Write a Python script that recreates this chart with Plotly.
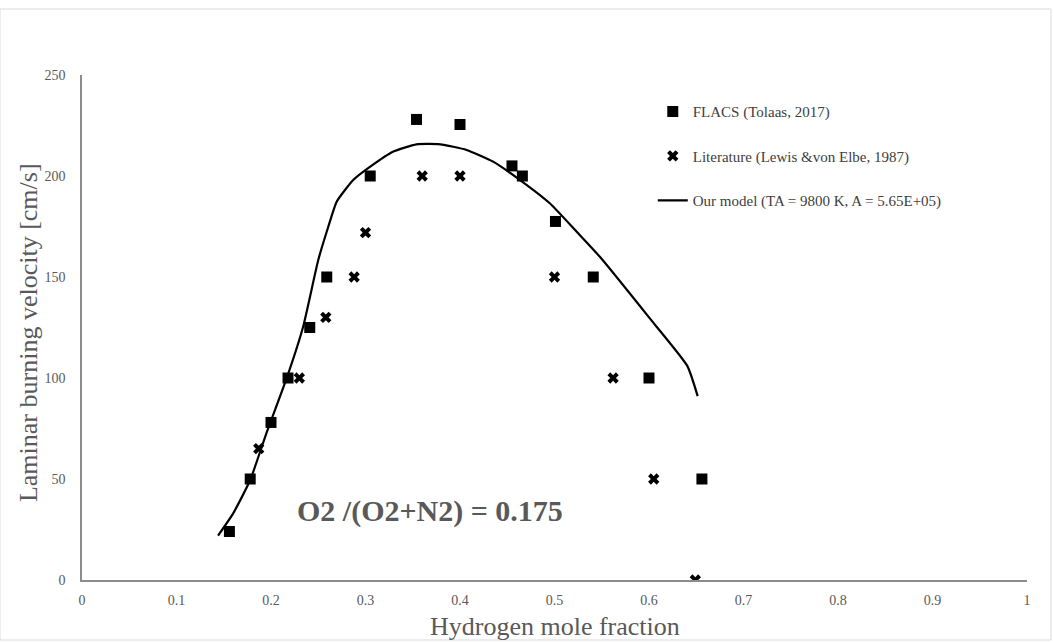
import plotly.graph_objects as go

# FLACS (Tolaas, 2017)
flacs_x = [0.156, 0.178, 0.200, 0.218, 0.241, 0.259, 0.305, 0.354, 0.400, 0.455, 0.466, 0.501, 0.541, 0.600, 0.656]
flacs_y = [24, 50, 78, 100, 125, 150, 200, 228, 225.5, 205, 200, 177.5, 150, 100, 50]

# Literature (Lewis & von Elbe, 1987)
lit_x = [0.187, 0.230, 0.258, 0.288, 0.300, 0.360, 0.400, 0.500, 0.562, 0.605, 0.649]
lit_y = [65, 100, 130, 150, 172, 200, 200, 150, 100, 50, 0]

# Our model
model_x = [0.144, 0.160, 0.178, 0.195, 0.2165, 0.234, 0.250, 0.2607, 0.2695, 0.287, 0.305,
           0.329, 0.354, 0.379, 0.407, 0.435, 0.4635, 0.495, 0.5235, 0.548, 0.600, 0.6405, 0.6515]
model_y = [22, 33, 49.5, 72.5, 99.8, 125.4, 158.4, 175, 187.3, 198, 204.6,
           212, 215.7, 215.7, 212.9, 207.1, 198, 186.5, 172.4, 160, 130, 106, 91]

x_ticks = [0, 0.1, 0.2, 0.3, 0.4, 0.5, 0.6, 0.7, 0.8, 0.9, 1]
x_ticklabels = ["0", "0.1", "0.2", "0.3", "0.4", "0.5", "0.6", "0.7", "0.8", "0.9", "1"]
y_ticks = [0, 50, 100, 150, 200, 250]

SERIF = "Liberation Serif, Times New Roman, serif"

fig = go.Figure()
fig.add_trace(go.Scatter(
    x=flacs_x, y=flacs_y, mode="markers", name="FLACS (Tolaas, 2017)",
    marker=dict(symbol="square", size=11, color="black"), legendgroup="a"))
fig.add_trace(go.Scatter(
    x=lit_x, y=lit_y, mode="markers", name="Literature (Lewis &von Elbe, 1987)",
    marker=dict(symbol="x", size=10, color="black", line=dict(width=0)), legendgroup="b"))
fig.add_trace(go.Scatter(
    x=model_x, y=model_y, mode="lines", name="Our model (TA = 9800 K, A = 5.65E+05)",
    line=dict(color="black", width=2.2, shape="spline", smoothing=0.5), legendgroup="c"))

fig.add_annotation(x=0.368, y=34, xref="x", yref="y", text="<b>O2 /(O2+N2) = 0.175</b>",
                   showarrow=False, font=dict(family=SERIF, size=30, color="#595959"))

# axis titles
fig.add_annotation(x=0.5, y=0, xref="paper", yref="paper", yshift=-46, yanchor="middle",
                   text="Hydrogen mole fraction", showarrow=False,
                   font=dict(family=SERIF, size=26, color="#595959"))
fig.add_annotation(x=0, y=0.489, xref="paper", yref="paper", xshift=-54, xanchor="center",
                   textangle=-90, text="Laminar burning velocity [cm/s]", showarrow=False,
                   font=dict(family=SERIF, size=26, color="#595959"))

fig.update_layout(
    width=1053, height=642,
    margin=dict(l=82, r=26, t=75, b=62, autoexpand=False),
    paper_bgcolor="white", plot_bgcolor="white",
    font=dict(family=SERIF, color="#595959"),
    legend=dict(x=0.604, y=0.96, xanchor="left", yanchor="top",
                font=dict(family=SERIF, size=15, color="#404040"),
                tracegroupgap=22, bgcolor="rgba(0,0,0,0)"),
    xaxis=dict(range=[0, 1], tickvals=x_ticks, ticktext=x_ticklabels, automargin=False,
               showgrid=False, zeroline=False, showline=True, linecolor="#8c8c8c", linewidth=1.5,
               ticks="outside", ticklen=6, tickcolor="rgba(0,0,0,0)",
               tickfont=dict(size=14, color="#595959")),
    yaxis=dict(range=[0, 250], tickvals=y_ticks, automargin=False,
               showgrid=False, zeroline=False, showline=True, linecolor="#8c8c8c", linewidth=1.5,
               ticks="outside", ticklen=12, tickcolor="rgba(0,0,0,0)",
               tickfont=dict(size=14, color="#595959")),
)

fig.add_shape(type="rect", xref="paper", yref="paper",
              x0=-82/945, x1=(945+24)/945, y0=-60/505, y1=(505+66)/505,
              line=dict(color="#d9d9d9", width=1), fillcolor="rgba(0,0,0,0)", layer="below")

fig.write_html("out.html")
